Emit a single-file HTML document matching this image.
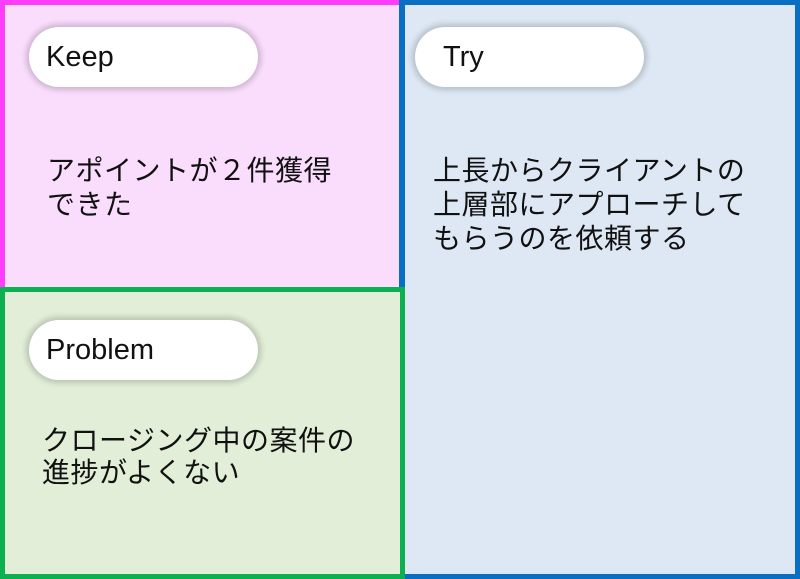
<!DOCTYPE html>
<html><head><meta charset="utf-8"><style>
body{margin:0;width:800px;height:579px;position:relative;overflow:hidden;background:#fff;font-family:"Liberation Sans","Noto Sans CJK JP",sans-serif;}
.b{position:absolute;box-sizing:border-box;}
.pill{position:absolute;background:#fff;border-radius:31px;height:60px;width:229px;box-shadow:0 0 6px 3px rgba(0,0,0,0.18);font-size:29px;line-height:60px;padding-left:17px;box-sizing:border-box;color:#111;}
.t{position:absolute;font-size:28px;letter-spacing:0.5px;line-height:34px;color:#111;white-space:nowrap;}
</style></head><body>
<div class="b" style="left:399px;top:0;width:401px;height:579px;background:#dde8f4;border:5px solid #0a6fc2;"></div>
<div class="b" style="left:0;top:0;width:404px;height:292px;background:#fadcfc;border:5px solid #ff3cfc;"></div>
<div class="b" style="left:399px;top:0;width:6px;height:292px;background:#0a6fc2;"></div>
<div class="b" style="left:0;top:287px;width:405px;height:292px;background:#e2eed8;border:5px solid #0db050;"></div>
<div class="pill" style="left:29px;top:27px;">Keep</div>
<div class="pill" style="left:415px;top:27px;padding-left:28px;">Try</div>
<div class="pill" style="left:29px;top:320px;">Problem</div>
<div class="t" style="left:47px;top:154px;">アポイントが２件獲得<br>できた</div>
<div class="t" style="left:433px;top:154px;">上長からクライアントの<br>上層部にアプローチして<br>もらうのを依頼する</div>
<div class="t" style="left:42px;top:425px;line-height:32px;">クロージング中の案件の<br>進捗がよくない</div>
</body></html>
